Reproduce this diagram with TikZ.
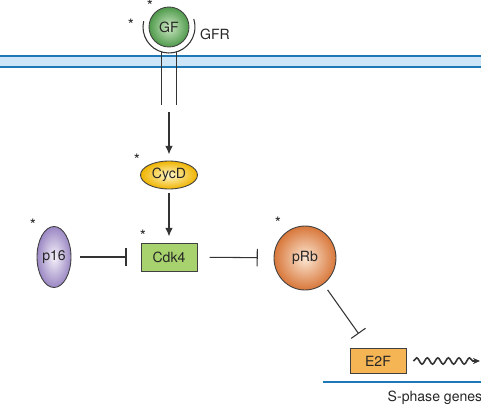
\documentclass[tikz,border=0pt]{standalone}
\usepackage{fontspec}
\setmainfont{TeX Gyre Heros}
\usetikzlibrary{shapes.geometric,arrows.meta,decorations.pathmorphing}

\definecolor{membrane}{HTML}{1E78B8}
\definecolor{membranein}{HTML}{CCE6F7}
\definecolor{gfin}{HTML}{CDE8C4}
\definecolor{gfout}{HTML}{4F9A4B}
\definecolor{cycin}{HTML}{FFF8C8}
\definecolor{cycout}{HTML}{F0B400}
\definecolor{pinkin}{HTML}{F6F2FA}
\definecolor{pinkout}{HTML}{9A87C3}
\definecolor{rbin}{HTML}{FCE7D4}
\definecolor{rbout}{HTML}{D8773A}
\definecolor{cdkfill}{HTML}{A8D26E}
\definecolor{e2ffill}{HTML}{F5B555}

\begin{document}
\begin{tikzpicture}[x=0.02cm,y=-0.02cm,
  font=\fontsize{8}{9}\selectfont,
  prot/.style={draw=black!75,line width=0.5pt,inner sep=0pt,text=black!85},
  act/.style={-{Latex[length=5pt,width=4.5pt]},line width=1pt,black!80},
  inh/.style={-{Bar[width=10pt]},line width=0.6pt,black!80},
  astr/.style={font=\fontsize{9}{9}\selectfont,inner sep=0pt,text=black!85}]
  \useasboundingbox (0,0) rectangle (481,406);

  % membrane
  \shade[top color=membranein,middle color=white,bottom color=membranein]
    (0,56) rectangle (481,67);
  \draw[membrane,line width=1.2pt] (0,56) -- (481,56);
  \draw[membrane,line width=1.2pt] (0,67) -- (481,67);

  % growth factor and its receptor
  \node[prot,circle,minimum size=0.8cm,shading=radial,inner color=gfin,outer color=gfout] (GF) at (169,27) {GF};
  \draw[black!80,line width=0.6pt] (GF.center) ++(167:0.52cm) arc[start angle=167,end angle=378,radius=0.52cm];
  \draw[black!80,line width=0.6pt] (161.5,52) -- (161.5,105);
  \draw[black!80,line width=0.6pt] (176.5,52) -- (176.5,105);
  \node[text=black!85] (GFR) at (215,34) {GFR};
  \coordinate (rcpt) at (169,112);

  % proteins
  \node[prot,ellipse,minimum width=1.14cm,minimum height=0.56cm,shading=radial,inner color=cycin,outer color=cycout] (CycD) at (169,175) {CycD};
  \node[prot,rectangle,minimum width=1.12cm,minimum height=0.56cm,fill=cdkfill] (Cdk4) at (169,257) {Cdk4};
  \node[prot,ellipse,minimum width=0.68cm,minimum height=1.22cm,shading=radial,inner color=pinkin,outer color=pinkout] (p16) at (54,257) {p16};
  \node[prot,ellipse,minimum width=1.24cm,minimum height=1.28cm,shading=radial,inner color=rbin,outer color=rbout] (pRb) at (305,258) {pRb};
  \node[prot,rectangle,minimum width=1.12cm,minimum height=0.5cm,fill=e2ffill] (E2F) at (378,361) {E2F};

  % asterisks
  \node[astr] (sGFa) at (150,6) {*};
  \node[astr] (sGFb) at (131,25) {*};
  \node[astr] (sCycD) at (137,160) {*};
  \node[astr] (sCdk4) at (143,236) {*};
  \node[astr] (sp16) at (33,225) {*};
  \node[astr] (spRb) at (278,223) {*};

  % signalling
  \draw[act,shorten >=3.4pt] (rcpt) -- (CycD);
  \draw[act,shorten <=2pt,shorten >=3.4pt] (CycD) -- (Cdk4);
  \draw[inh,shorten <=5pt,shorten >=8pt] (p16) -- (Cdk4);
  \draw[inh,shorten <=7pt,shorten >=9pt] (Cdk4) -- (pRb);
  \draw[inh,shorten <=4pt,shorten >=10pt] (pRb) -- (E2F);

  % target genes
  \coordinate (geneEnd) at (480,361);
  \draw[black!80,line width=0.9pt,-{Stealth[length=4pt,width=3.5pt]},decorate,
    decoration={snake,amplitude=1.8pt,segment length=6pt,post length=4pt}]
    ([xshift=4pt]E2F.east) -- (geneEnd);
  \draw[membrane,line width=1.2pt] (323,382) -- (481,382);
  \node[text=black!85] (genes) at (435,398) {S-phase genes};
\end{tikzpicture}
\end{document}
